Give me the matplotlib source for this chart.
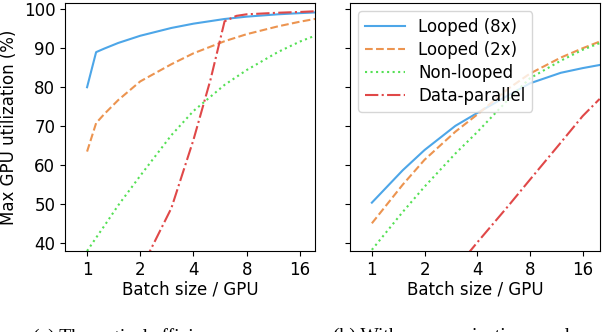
import matplotlib
matplotlib.use("Agg")
import matplotlib.pyplot as plt
from matplotlib.ticker import FixedLocator, FixedFormatter, NullLocator

# Data here
ticks = [1, 2, 4, 8, 16]
tick_labels = ["1", "2", "4", "8", "16"]
labels = ["Looped (8x)", "Looped (2x)", "Non-looped", "Data-parallel"]

# (a) theoretical
bs_a = [1, 1.125, 1.25, 1.5, 2, 3, 4, 6, 8, 12, 16, 20]
looped8_a = [80, 89, 89.9, 91.35, 93.2, 95.2, 96.3, 97.5, 98.1, 98.7, 99.0, 99.2]
looped2_a = [63.5, 70.8, 73.1, 76.7, 81.5, 85.9, 88.7, 91.8, 93.6, 95.6, 96.8, 97.6]
nonlooped_a = [38, 41.4, 44.4, 49.7, 57.3, 67.7, 73.9, 80.6, 84.4, 89.0, 91.7, 93.4]
bs_dp_a = [1, 2, 3, 4, 5, 6, 7, 8, 12, 16, 20]
dp_a = [15, 33, 49, 66.5, 82, 96.9, 98.3, 98.7, 99.1, 99.3, 99.5]

# (b)
bs_b = [1, 1.5, 2, 3, 4, 6, 8, 12, 16, 20]
looped8_b = [50.4, 58.7, 63.9, 70.1, 73.4, 77.9, 81.0, 83.7, 84.9, 85.7]
looped2_b = [45.1, 55.0, 61.4, 68.6, 73.0, 79.6, 83.5, 87.6, 90.0, 91.7]
nonlooped_b = [38.3, 48.0, 54.5, 63.0, 68.5, 76.8, 82.3, 86.8, 89.6, 91.3]
bs_dp_b = [2, 3, 4, 6, 8, 12, 16, 20]
dp_b = [24, 33.4, 40.2, 49.5, 56.3, 65.8, 72.6, 77]

colors = ["#4da6e8", "#ec9450", "#55e055", "#e04848"]
styles = ["-", "--", ":", "-."]

plt.rcParams["font.family"] = "DejaVu Sans"
plt.rcParams["font.size"] = 12

fig = plt.figure(figsize=(6.02, 3.32), dpi=100)
ax1 = fig.add_axes([65 / 602, 81 / 332, 250 / 602, 248 / 332])
ax2 = fig.add_axes([350 / 602, 81 / 332, 250 / 602, 248 / 332], sharey=ax1)

series_a = [(bs_a, looped8_a), (bs_a, looped2_a), (bs_a, nonlooped_a), (bs_dp_a, dp_a)]
series_b = [(bs_b, looped8_b), (bs_b, looped2_b), (bs_b, nonlooped_b), (bs_dp_b, dp_b)]

for ax, series, xmax in [(ax1, series_a, 19.5), (ax2, series_b, 20.1)]:
    for i, (xs, ys) in enumerate(series):
        ax.plot(xs, ys, styles[i], color=colors[i], lw=1.5, label=labels[i])
    ax.set_xscale("log", base=2)
    ax.xaxis.set_major_locator(FixedLocator(ticks))
    ax.xaxis.set_major_formatter(FixedFormatter(tick_labels))
    ax.xaxis.set_minor_locator(NullLocator())
    ax.set_xlim(0.75, xmax)
    ax.set_xlabel("Batch size / GPU", labelpad=1)

ax1.set_ylim(38, 101.6)
ax1.set_yticks([40, 50, 60, 70, 80, 90, 100])
ax1.set_ylabel("Max GPU utilization (%)")
plt.setp(ax2.get_yticklabels(), visible=False)

ax2.legend(loc="upper left", fontsize=12, handlelength=2.4, borderpad=0.4, labelspacing=0.3)

# captions, cut off at the bottom edge as in the source
fig.text(33 / 602, 1 - 328 / 332, "(a) Theoretical efficiency", family="Liberation Serif",
         fontsize=14, va="top")
fig.text(333 / 602, 1 - 328 / 332, "(b) With communication overlap and", family="Liberation Serif",
         fontsize=14, va="top")

plt.savefig("out.png", dpi=100)
plt.close()
